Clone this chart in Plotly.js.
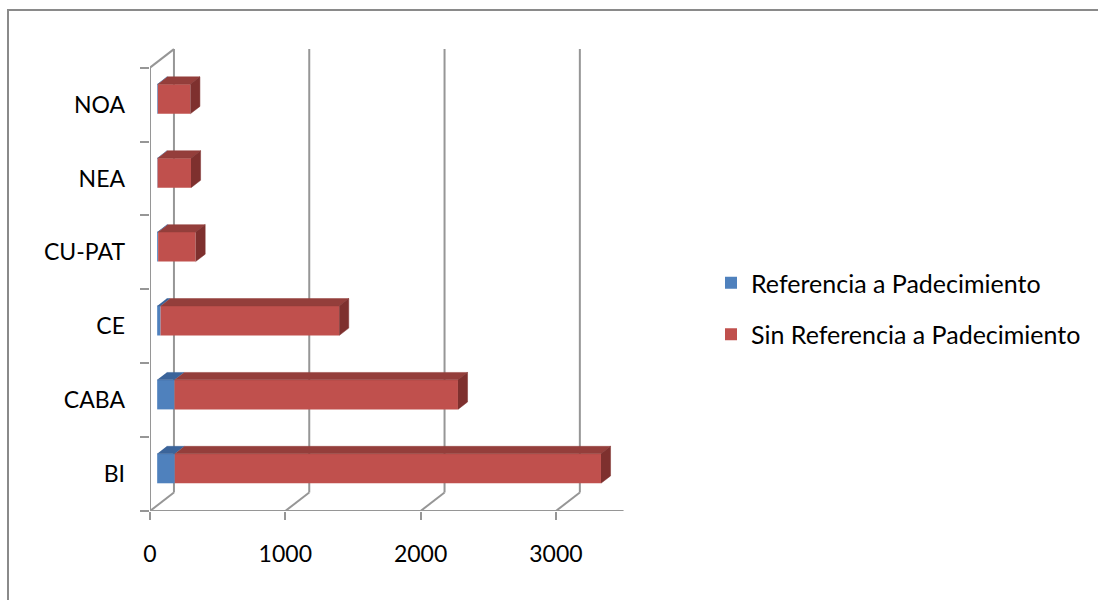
<!DOCTYPE html>
<html>
<head>
<meta charset="utf-8">
<script src="https://cdn.plot.ly/plotly-3.0.1.min.js"></script>
<style>
  html, body { margin: 0; padding: 0; background: #fff; }
  #wrap { position: relative; width: 1098px; height: 600px; overflow: hidden; }
  #chart { position: absolute; left: 0; top: 0; width: 1098px; height: 600px; }
  #frame { position: absolute; left: 7px; top: 9px; width: 1200px; height: 700px;
           border-left: 2px solid #8a8a8a; border-top: 2px solid #8a8a8a; pointer-events: none; }
</style>
</head>
<body>
<div id="wrap"><div id="chart"></div><div id="frame"></div></div>
<script>
// ---- data ----
const categories = ["BI", "CABA", "CE", "CU-PAT", "NEA", "NOA"];
const referencia = [130, 128, 25, 7, 3, 5];
const sinReferencia = [3150, 2095, 1320, 277, 247, 240];
const xTicks = [0, 1000, 2000, 3000];
const xAxisEnd = 3500;
const seriesNames = ["Referencia a Padecimiento", "Sin Referencia a Padecimiento"];

// ---- pseudo-3D projection settings (style) ----
const DX = 177;    // depth offset in value units
const DY = 0.25;   // depth offset in category units
const d0 = 0.3, d1 = 0.7;   // bar depth span (fraction of wall depth)
const half = 0.2;           // half bar thickness (category units)
const nCat = categories.length;
const gridColor = "#969696";

const colFront = ["#4F81BD", "#C0504D"];
const colTop = ["#3b649a", "#943e3b"];
const colSide = ["#335a8a", "#7e302e"];

const series = [referencia, sinReferencia];
const traces = [];

// front faces as bars
series.forEach((vals, s) => {
  const base = vals.map((v, i) => d0 * DX + (s === 1 ? referencia[i] : 0));
  traces.push({
    type: "bar", orientation: "h",
    name: seriesNames[s], legendgroup: "g" + s,
    x: vals, base: base,
    y: categories.map((c, i) => i + 0.5 + d0 * DY),
    width: 2 * half,
    marker: { color: colFront[s], line: { width: 0 } },
    hoverinfo: "skip"
  });
});

// top faces
series.forEach((vals, s) => {
  const xs = [], ys = [];
  vals.forEach((v, i) => {
    const start = s === 1 ? referencia[i] : 0;
    const end = start + v;
    const yt = i + 0.5 + half;
    xs.push(start + d0 * DX, end + d0 * DX, end + d1 * DX, start + d1 * DX, null);
    ys.push(yt + d0 * DY, yt + d0 * DY, yt + d1 * DY, yt + d1 * DY, null);
  });
  traces.push({
    type: "scatter", mode: "lines", x: xs, y: ys, fill: "toself",
    fillcolor: colTop[s], line: { color: colTop[s], width: 0.5 },
    showlegend: false, hoverinfo: "skip", legendgroup: "g" + s
  });
});

// side faces (end of stack)
(function () {
  const xs = [], ys = [];
  sinReferencia.forEach((v, i) => {
    const end = referencia[i] + v;
    const yb = i + 0.5 - half, yt = i + 0.5 + half;
    xs.push(end + d0 * DX, end + d1 * DX, end + d1 * DX, end + d0 * DX, null);
    ys.push(yb + d0 * DY, yb + d1 * DY, yt + d1 * DY, yt + d0 * DY, null);
  });
  traces.push({
    type: "scatter", mode: "lines", x: xs, y: ys, fill: "toself",
    fillcolor: colSide[1], line: { color: colSide[1], width: 0.5 },
    showlegend: false, hoverinfo: "skip", legendgroup: "g1"
  });
})();

// wall / floor lines as shapes
const shapes = [];
const ln = (x0, y0, x1, y1) => ({
  type: "line", xref: "x", yref: "y", x0, y0, x1, y1, layer: "below",
  line: { color: gridColor, width: 2 }
});
xTicks.forEach(v => {
  shapes.push(ln(v + DX, DY, v + DX, nCat + DY));   // back wall gridline
  shapes.push(ln(v, 0, v + DX, DY));                 // floor diagonal
});
shapes.push(ln(0, 0, xAxisEnd, 0));        // front value axis
shapes.push(ln(0, 0, 0, nCat));            // front edge of side wall
shapes.push(ln(0, nCat, DX, nCat + DY));   // top edge of side wall

const font = "Lato, 'Open Sans', sans-serif";
const pxPerUnit = 0.1353;

const layout = {
  width: 1098, height: 600,
  margin: { l: 150, r: 448, t: 45, b: 89 },
  paper_bgcolor: "#fff", plot_bgcolor: "rgba(0,0,0,0)",
  barmode: "overlay",
  showlegend: true,
  font: { family: font, size: 23, color: "#000" },
  xaxis: {
    range: [0, 500 / pxPerUnit], showgrid: false, zeroline: false, showline: false,
    tickvals: xTicks, ticktext: xTicks.map(String),
    ticks: "outside", ticklen: 8, tickwidth: 2, tickcolor: gridColor,
    ticklabelstandoff: 14, fixedrange: true
  },
  yaxis: {
    range: [0, 466 / 73.9], showgrid: false, zeroline: false, showline: false,
    tickvals: categories.map((c, i) => i + 0.5), ticktext: categories,
    ticks: "", ticklabelstandoff: 24,
    minor: { tickvals: categories.map((c, i) => i).concat([nCat]), ticks: "outside",
             ticklen: 9, tickwidth: 2, tickcolor: gridColor, showgrid: false },
    fixedrange: true
  },
  legend: {
    xref: "container", yref: "container", x: 711 / 1098, y: 1 - 260 / 600,
    xanchor: "left", yanchor: "top", traceorder: "grouped", tracegroupgap: 16,
    font: { family: font, size: 25, color: "#000" }, bgcolor: "rgba(0,0,0,0)"
  },
  shapes: shapes
};

Plotly.newPlot("chart", traces, layout, { displayModeBar: false, staticPlot: true });
</script>
</body>
</html>
